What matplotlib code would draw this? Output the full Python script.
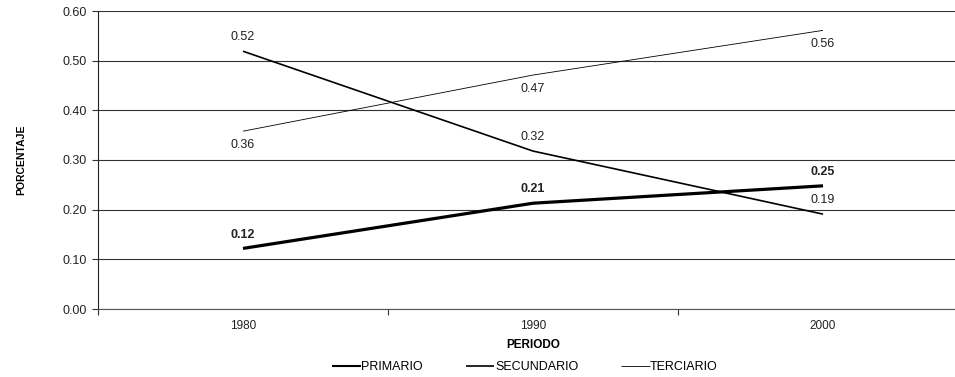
import matplotlib
matplotlib.use('Agg')
import matplotlib.pyplot as plt
import numpy as np

# Sector shares per decade
periodos = ['1980', '1990', '2000']
primario = [0.122, 0.213, 0.248]
secundario = [0.519, 0.318, 0.191]
terciario = [0.358, 0.471, 0.561]
yticks = [0.0, 0.1, 0.2, 0.3, 0.4, 0.5, 0.6]

plt.rcParams['font.family'] = ['Liberation Sans', 'DejaVu Sans']

fig = plt.figure(figsize=(9.55, 3.77), dpi=100)
ax = fig.add_axes([98 / 955, 68 / 377, 870 / 955, 298 / 377])

x = np.arange(len(periodos))

series = [
    ('PRIMARIO', primario, 2.3, 'bold', 'above'),
    ('SECUNDARIO', secundario, 1.2, 'normal', 'above'),
    ('TERCIARIO', terciario, 0.6, 'normal', 'below'),
]

for name, vals, lw, weight, pos in series:
    ax.plot(x, vals, color='black', lw=lw, label=name, solid_capstyle='butt')
    for xi, v in zip(x, vals):
        dy = 10 if pos == 'above' else -10
        ax.annotate(f'{v:.2f}', (xi, v), xytext=(0, dy), textcoords='offset points',
                    ha='center', va='center', fontsize=9, fontweight=weight,
                    color='#222222')

ax.set_ylim(0, 0.6)
ax.set_xlim(-0.5, len(periodos) - 0.5)
ax.set_yticks(yticks)
ax.set_yticklabels([f'{t:.2f}' for t in yticks], fontsize=9, color='#222222')
ax.yaxis.grid(True, color='#333333', lw=0.8)
ax.set_axisbelow(True)

# category labels centred, tick marks on the boundaries
ax.set_xticks(np.arange(-0.5, len(periodos)), minor=False)
ax.set_xticklabels([])
ax.set_xticks(x, minor=True)
ax.set_xticklabels(periodos, minor=True, fontsize=8.5, color='#222222')
ax.tick_params(axis='x', which='minor', length=0, pad=8)
ax.tick_params(axis='x', which='major', length=4, direction='out', color='#333333')
ax.tick_params(axis='y', length=4, direction='out', color='#333333', pad=4)

for side in ['top', 'right']:
    ax.spines[side].set_visible(False)
ax.spines['left'].set_color('#222222')
ax.spines['bottom'].set_color('#555555')

ax.set_xlabel('PERIODO', fontsize=8.5, fontweight='bold', labelpad=5)
ax.set_ylabel('PORCENTAJE', fontsize=7.5, fontweight='bold', labelpad=26)

leg = fig.legend(loc='center', bbox_to_anchor=(525 / 955, 1 - 367 / 377), ncol=3,
                 frameon=False, fontsize=9, handlelength=2.3, handletextpad=0.05,
                 columnspacing=3.4)
for line in leg.get_lines():
    line.set_linewidth(min(line.get_linewidth(), 1.5))

fig.savefig('out.png', dpi=100)
